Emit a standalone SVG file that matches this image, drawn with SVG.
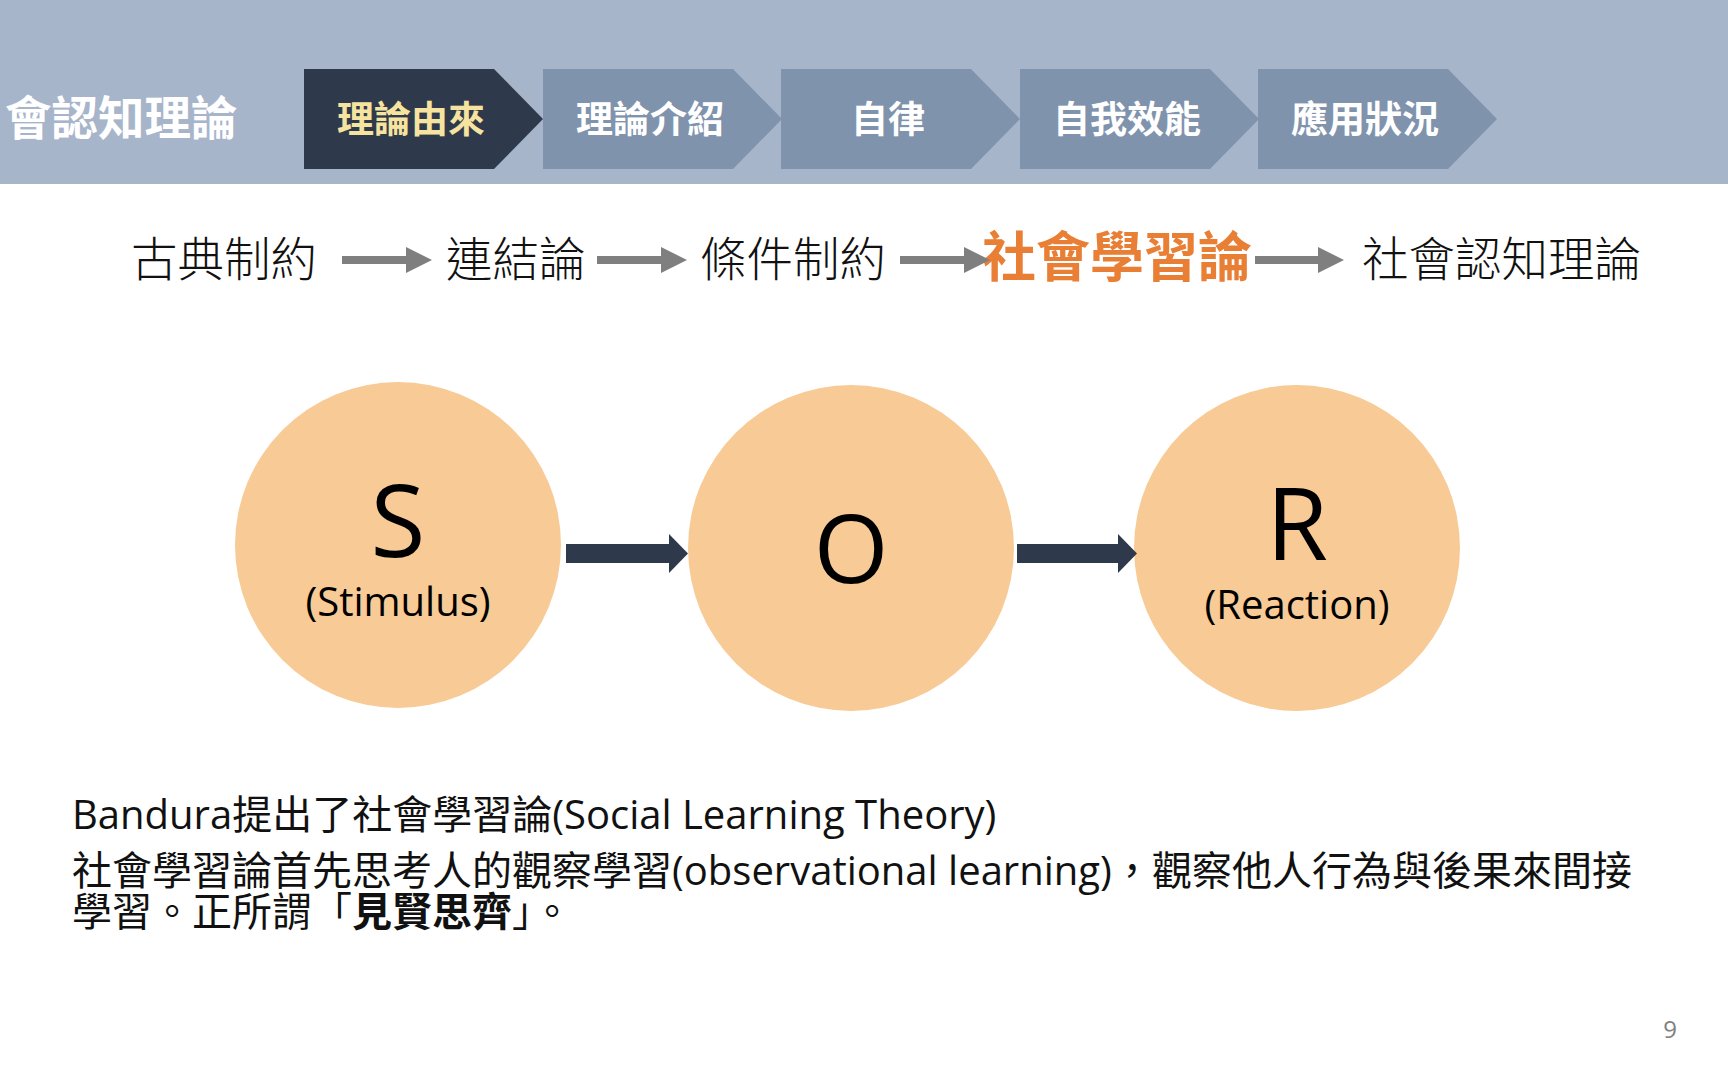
<svg xmlns="http://www.w3.org/2000/svg" width="1728" height="1080" viewBox="0 0 1728 1080">
<defs>
<style>
.cjk{font-family:"Noto Sans CJK TC","Noto Sans CJK SC",sans-serif}
.chev{fill:#7F93AD}
.chevOn{fill:#2E3A4B}
.tab{font-family:"Noto Sans CJK TC",sans-serif;font-size:37px;font-weight:700;fill:#FFFFFF;text-anchor:middle}
.step{font-family:"Noto Sans CJK TC",sans-serif;font-size:46.5px;font-weight:300;fill:#111111}
.gray{fill:#7F7F7F}
.dark{fill:#2E3A4B}
.circ{fill:#F8CA95}
.big{font-family:"Open Sans","Liberation Sans",sans-serif;font-size:100px;fill:#000000;text-anchor:middle}
.sub{font-family:"Open Sans","Liberation Sans",sans-serif;font-size:40px;fill:#000000;text-anchor:middle}
.body{font-family:"Open Sans","Noto Sans CJK TC",sans-serif;font-size:40px;fill:#111111}
</style>
</defs>
<rect x="0" y="0" width="1728" height="1080" fill="#FFFFFF"/>
<g id="header">
<rect x="0" y="0" width="1728" height="184" fill="#A7B5CA"/>
<text x="5" y="135" class="cjk" font-size="46.5" font-weight="700" fill="#FFFFFF">會認知理論</text>
</g>
<g id="tab1">
<path class="chevOn" d="M304,69 H494 L543,119 L494,169 H304 Z"/>
<text x="411" y="133" class="tab" style="fill:#F6E3A0">理論由來</text>
</g>
<g id="tab2">
<path class="chev" d="M543,69 H733 L782,119 L733,169 H543 Z"/>
<text x="650" y="133" class="tab">理論介紹</text>
</g>
<g id="tab3">
<path class="chev" d="M781,69 H971 L1020,119 L971,169 H781 Z"/>
<text x="888" y="133" class="tab">自律</text>
</g>
<g id="tab4">
<path class="chev" d="M1020,69 H1210 L1259,119 L1210,169 H1020 Z"/>
<text x="1127" y="133" class="tab">自我效能</text>
</g>
<g id="tab5">
<path class="chev" d="M1258,69 H1448 L1497,119 L1448,169 H1258 Z"/>
<text x="1365" y="133" class="tab">應用狀況</text>
</g>
<g id="step1"><text x="131" y="276" class="step">古典制約</text></g>
<g id="step2"><text x="446" y="276" class="step">連結論</text></g>
<g id="step3"><text x="700" y="276" class="step">條件制約</text></g>
<g id="step4"><text x="982" y="277" class="cjk" font-size="54" font-weight="700" fill="#E97E35">社會學習論</text></g>
<g id="step5"><text x="1362" y="276" class="step">社會認知理論</text></g>
<g id="nodeS">
<circle class="circ" cx="398" cy="545" r="163"/>
<text x="398" y="557" class="big">S</text>
<text x="398" y="616" class="sub">(Stimulus)</text>
</g>
<g id="nodeO">
<circle class="circ" cx="851" cy="548" r="163"/>
<text x="851" y="583" class="big" style="font-size:96px">O</text>
</g>
<g id="nodeR">
<circle class="circ" cx="1297" cy="548" r="163"/>
<text x="1297" y="560" class="big">R</text>
<text x="1297" y="619" class="sub">(Reaction)</text>
</g>
<g id="connectors">
<rect class="gray" x="342" y="256" width="65" height="8"/>
<polygon class="gray" points="406,247 432,260 406,273"/>
<rect class="gray" x="597" y="256" width="65" height="8"/>
<polygon class="gray" points="661,247 687,260 661,273"/>
<rect class="gray" x="900" y="256" width="65" height="8"/>
<polygon class="gray" points="964,247 990,260 964,273"/>
<rect class="gray" x="1255" y="256" width="64" height="8"/>
<polygon class="gray" points="1318,247 1344,260 1318,273"/>
<rect class="dark" x="566" y="544" width="104" height="19"/>
<polygon class="dark" points="669,534 688,553.5 669,573"/>
<rect class="dark" x="1017" y="544" width="102" height="19"/>
<polygon class="dark" points="1118,534 1137,553.5 1118,573"/>
</g>
<g id="description">
<text x="72" y="829" class="body">Bandura提出了社會學習論(Social Learning Theory)</text>
<text x="72" y="885" class="body">社會學習論首先思考人的觀察學習(observational learning)，觀察他人行為與後果來間接</text>
<text x="72" y="926" class="body">學習。正所謂「<tspan font-weight="700">見賢思齊</tspan>」。</text>
</g>
<g id="pagenum">
<text x="1670" y="1038" font-family="Open Sans, Liberation Sans, sans-serif" font-size="24" fill="#808080" text-anchor="middle">9</text>
</g>
</svg>
